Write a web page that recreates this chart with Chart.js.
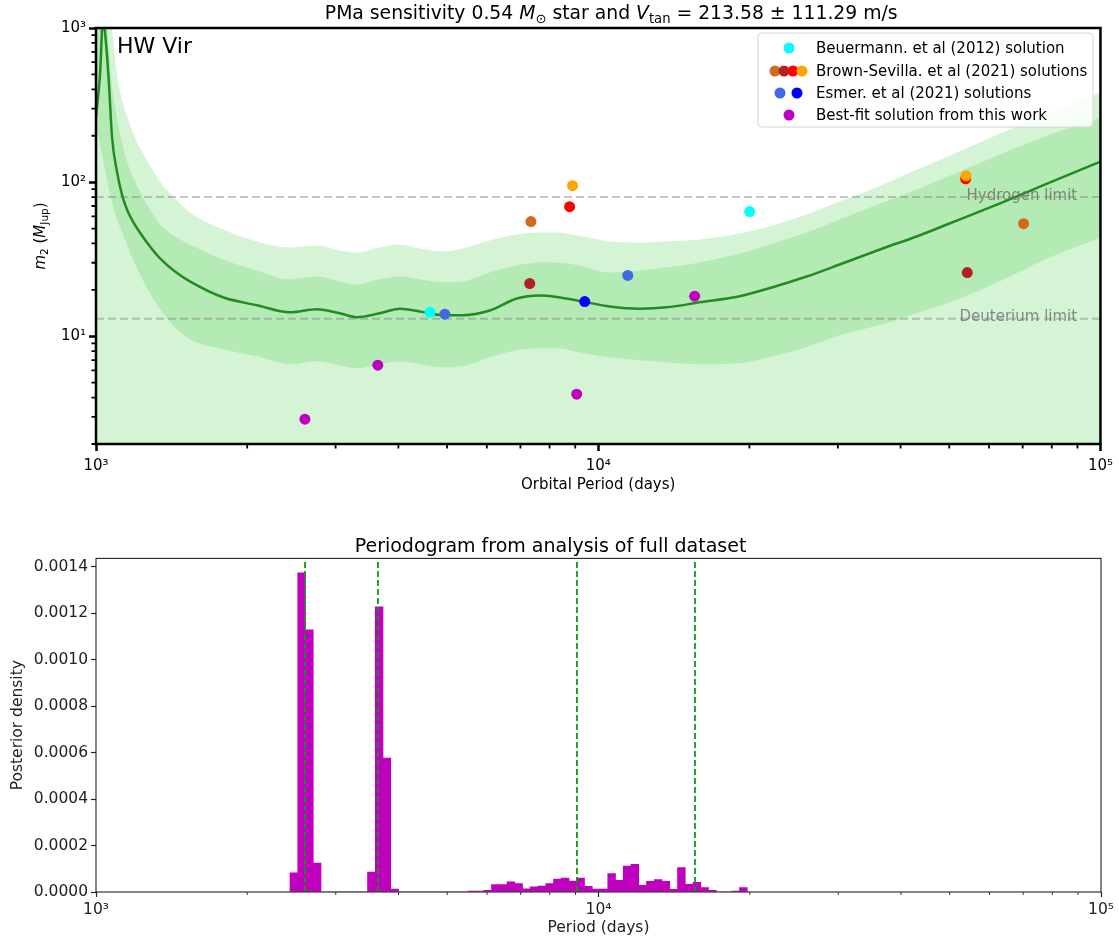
<!DOCTYPE html>
<html><head><meta charset="utf-8">
<script src="https://cdn.jsdelivr.net/npm/chart.js@4.4.1/dist/chart.umd.min.js"></script>
<style>
html,body{margin:0;padding:0;background:#fff;width:1119px;height:940px;overflow:hidden}
canvas{position:absolute;left:0;display:block}
</style></head><body>
<canvas id="top" width="1119" height="500" style="top:0px"></canvas>
<canvas id="bottom" width="1119" height="440" style="top:500px"></canvas>
<script>
// ---------------- data ----------------
const periodGrid = [1000, 1018.5, 1032.6, 1046.9, 1061.4, 1076.1, 1101.0, 1126.5, 1152.6, 1184.7, 1223, 1280.9, 1341, 1436.4, 1538, 1789, 2091, 2433, 2754, 3060, 3306, 3674, 4027, 4414, 4904, 5375, 6082, 6883, 7649, 8268, 9316, 10541, 12095, 13689, 15922, 19126, 22250, 25994, 30241, 36840, 43040, 50060, 62950, 79170, 100000];
const medianMass = [265, 497, 1150, 800, 428, 197, 117, 83, 66.4, 55.5, 47.1, 38.2, 32.0, 26.3, 22.7, 17.9, 15.9, 14.3, 14.95, 14.1, 13.3, 14.1, 15.07, 14.5, 13.7, 13.7, 14.7, 17.6, 18.4, 18.0, 16.8, 15.6, 15.1, 15.4, 16.6, 18.2, 20.8, 24.4, 29.2, 37.1, 44.4, 53.9, 72.6, 99.3, 135.8];
const innerHigh = [600, 1500, 3000, 1300, 720, 428, 261, 180, 136, 107, 86.8, 66.4, 53.1, 44.4, 39.4, 31.5, 26.7, 23.4, 24.4, 22.7, 21.7, 23.4, 24.4, 23.4, 22.4, 22.7, 25.9, 28.8, 30.1, 30.1, 28.4, 25.9, 26.7, 28.0, 30.1, 34.4, 40.0, 47.1, 57.2, 73.7, 89.4, 110.2, 150.7, 203, 261];
const innerLow = [236, 175, 140, 112, 90, 73.7, 57.2, 47.9, 39.4, 31.5, 25.2, 19.0, 15.0, 11.4, 9.57, 8.24, 7.42, 6.59, 6.89, 6.49, 6.21, 6.59, 6.89, 6.59, 6.30, 6.39, 7.31, 8.12, 8.36, 8.36, 7.76, 7.31, 7.0, 6.79, 6.59, 6.69, 7.42, 8.49, 10.15, 11.96, 14.1, 16.6, 22.7, 32.4, 43.7];
const outerHigh = [3000, 3000, 3000, 3000, 1300, 970, 497, 342, 269, 209, 167, 128, 100.7, 78.2, 63.5, 49.3, 41.2, 37.7, 38.8, 36.0, 35.0, 37.7, 39.4, 37.1, 35.5, 37.1, 41.8, 45.7, 47.1, 47.1, 44.4, 41.2, 40.6, 41.2, 42.4, 46.4, 52.3, 61.6, 74.8, 96.3, 120.5, 148.4, 206, 282, 380];
const outerLow = [1.5, 1.5, 1.5, 1.5, 1.5, 1.5, 1.5, 1.5, 1.5, 1.5, 1.5, 1.5, 1.5, 1.5, 1.5, 1.5, 1.5, 1.5, 1.5, 1.5, 1.5, 1.5, 1.5, 1.5, 1.5, 1.5, 1.5, 1.5, 1.5, 1.5, 1.5, 1.5, 1.5, 1.5, 1.5, 1.5, 1.5, 1.5, 1.5, 1.5, 1.5, 1.5, 1.5, 1.5, 1.5];

const hydrogenLimit = 80;
const deuteriumLimit = 13;
const hydrogenLabelP = 54110;
const deuteriumLabelP = 52410;

const beuermannP = [4625, 20020];          const beuermannM = [14.3, 64.4];
const brownChocolateP = [7345, 70300];     const brownChocolateM = [55.5, 53.8];
const brownFirebrickP = [7305, 54300];     const brownFirebrickM = [22.0, 25.9];
const brownRedP = [8770, 53900];           const brownRedM = [69.3, 105];
const brownOrangeP = [8890, 54000];        const brownOrangeM = [94.8, 110];
const esmerRoyalP = [4950, 11450];         const esmerRoyalM = [13.9, 24.8];
const esmerBlueP = [9400];                 const esmerBlueM = [16.8];
const bestFitP = [2606, 3640, 9060, 15560]; const bestFitM = [2.90, 6.49, 4.21, 18.2];

const legendLabels = ['Beuermann. et al (2012) solution', 'Brown-Sevilla. et al (2021) solutions', 'Esmer. et al (2021) solutions', 'Best-fit solution from this work'];

const xMajorTicks = [1000, 10000, 100000];
const xMinorTicks = [2000, 3000, 4000, 5000, 6000, 7000, 8000, 9000, 20000, 30000, 40000, 50000, 60000, 70000, 80000, 90000];
const yMajorTicks = [10, 100, 1000];
const yMinorTicks = [2, 3, 4, 5, 6, 7, 8, 9, 20, 30, 40, 50, 60, 70, 80, 90, 200, 300, 400, 500, 600, 700, 800, 900];

const histBinCenters = [2476.2, 2565.7, 2658.5, 2754.6, 2854.2, 2957.4, 3064.3, 3175.1, 3289.9, 3408.8, 3532.0, 3659.7, 3792.0, 3929.1, 4071.1, 4218.3, 4370.8, 4528.8, 4692.5, 4862.2, 5038.0, 5220.1, 5408.8, 5604.3, 5806.9, 6016.8, 6234.3, 6459.7, 6693.2, 6935.2, 7185.9, 7445.7, 7714.9, 7993.8, 8282.8, 8582.2, 8892.4, 9213.9, 9547.0, 9892.1, 10249.7, 10620.2, 11004.1, 11401.9, 11814.1, 12241.2, 12683.8, 13142.3, 13617.4, 14109.7, 14619.8, 15148.3, 15695.9, 16263.3, 16851.2, 17460.4, 18091.6, 18745.6, 19423.3];
const histDensity = [0.000082, 0.001374, 0.001129, 0.000125, 0, 0, 0, 0, 0, 0, 0.000086, 0.001228, 0.000577, 0.000013, 0, 0, 0, 0, 0, 0, 0, 0, 0, 0.000004, 0.000004, 0.000007, 0.000032, 0.000032, 0.000044, 0.000036, 0.000014, 0.000022, 0.000026, 0.000036, 0.000056, 0.000060, 0.000047, 0.000060, 0.000024, 0.000013, 0.000013, 0.000079, 0.000050, 0.000112, 0.000119, 0.000029, 0.000046, 0.000053, 0.000046, 0.000012, 0.000105, 0.000033, 0.000042, 0.000019, 0.000007, 0, 0, 0.000004, 0.000019];
const densityTicks = [0, 0.0002, 0.0004, 0.0006, 0.0008, 0.0010, 0.0012, 0.0014];
const densityAxisMax = 0.001436;

// ---------------- styling ----------------
const FF = '"DejaVu Sans", "Liberation Sans", sans-serif';
Chart.defaults.font.family = FF;
Chart.defaults.color = '#000';
const OUTER = '#d5f4d5';
const INNER = '#b4eab4';
const LINE = '#228b22';
const SUP = {0:'⁰',1:'¹',2:'²',3:'³',4:'⁴',5:'⁵'};
const powLabel = v => '10' + SUP[Math.round(Math.log10(v))];
const pts = (xs, ys) => xs.map((x, i) => ({x: x, y: ys[i]}));

function drawRich(ctx, pieces, cx, y, size) {
  let total = 0;
  const fnt = p => (p[1] === 'i' ? 'italic ' : '') + (size * p[2]).toFixed(2) + 'px ' + FF;
  const ws = pieces.map(p => { ctx.font = fnt(p); const w = ctx.measureText(p[0]).width; total += w; return w; });
  let x = cx - total / 2;
  pieces.forEach((p, i) => { ctx.font = fnt(p); ctx.fillText(p[0], x, y + p[3] * size); x += ws[i]; });
}

function minorTicks(chart, xv, yv, len, width, color) {
  const {ctx, chartArea: ca} = chart;
  const xs = chart.scales.x, ys = chart.scales.y;
  ctx.save();
  ctx.strokeStyle = color; ctx.lineWidth = width;
  ctx.beginPath();
  xv.forEach(v => { const p = xs.getPixelForValue(v); ctx.moveTo(p, ca.bottom); ctx.lineTo(p, ca.bottom + len); });
  yv.forEach(v => { const p = ys.getPixelForValue(v); ctx.moveTo(ca.left, p); ctx.lineTo(ca.left - len, p); });
  ctx.stroke();
  ctx.restore();
}

const topDecor = {
  id: 'topDecor',
  afterDatasetsDraw(chart) {
    const {ctx} = chart;
    const xs = chart.scales.x, ys = chart.scales.y;
    ctx.save();
    ctx.font = '15px ' + FF;
    ctx.fillStyle = 'rgba(110,110,110,0.8)';
    ctx.textAlign = 'left'; ctx.textBaseline = 'alphabetic';
    ctx.fillText('Hydrogen limit', xs.getPixelForValue(hydrogenLabelP), ys.getPixelForValue(hydrogenLimit) + 3);
    ctx.fillText('Deuterium limit', xs.getPixelForValue(deuteriumLabelP), ys.getPixelForValue(deuteriumLimit) + 2);
    ctx.restore();
  },
  afterDraw(chart) {
    const {ctx, chartArea: ca} = chart;
    minorTicks(chart, xMinorTicks, yMinorTicks, 4.5, 1.8, '#000');
    ctx.save();
    ctx.strokeStyle = '#000'; ctx.lineWidth = 2.5;
    ctx.strokeRect(ca.left, ca.top, ca.right - ca.left, ca.bottom - ca.top);
    // star name
    ctx.fillStyle = '#000'; ctx.font = '22px ' + FF; ctx.textAlign = 'left'; ctx.textBaseline = 'alphabetic';
    ctx.fillText('HW Vir', ca.left + 21, ca.top + 25);
    // legend
    const lx = 758, ly = 33, lw = 335, lh = 94;
    ctx.beginPath();
    ctx.roundRect(lx, ly, lw, lh, 4);
    ctx.fillStyle = 'rgba(255,255,255,0.8)'; ctx.fill();
    ctx.strokeStyle = '#d4d4d4'; ctx.lineWidth = 1; ctx.stroke();
    const rows = [48, 71, 93, 115];
    const marks = [[[789, '#00ffff']], [[775, '#d2691e'], [784, '#b22222'], [793, '#ff0000'], [802, '#ffa500']], [[780, '#4169e1'], [797, '#0000ff']], [[789, '#bf00bf']]];
    marks.forEach((m, i) => m.forEach(([mx, c]) => { ctx.beginPath(); ctx.arc(mx, rows[i], 5.5, 0, Math.PI * 2); ctx.fillStyle = c; ctx.fill(); }));
    ctx.fillStyle = '#000'; ctx.font = '15px ' + FF; ctx.textBaseline = 'middle';
    legendLabels.forEach((t, i) => ctx.fillText(t, 816, rows[i] + 1));
    // title
    ctx.textBaseline = 'alphabetic'; ctx.fillStyle = '#000';
    drawRich(ctx, [['PMa sensitivity 0.54 ', 'n', 1, 0], ['M', 'i', 1, 0], ['⊙', 'n', 0.7, 0.22], [' star and ', 'n', 1, 0], ['V', 'i', 1, 0], ['tan', 'n', 0.7, 0.22], [' = 213.58 ± 111.29 m/s', 'n', 1, 0]], (ca.left + ca.right) / 2 + 13, 18.5, 18.8);
    // y label
    ctx.translate(40, (ca.top + ca.bottom) / 2);
    ctx.rotate(-Math.PI / 2);
    drawRich(ctx, [['m', 'i', 1, 0], ['2', 'n', 0.7, 0.22], [' (', 'n', 1, 0], ['M', 'i', 1, 0], ['Jup', 'n', 0.7, 0.22], [')', 'n', 1, 0]], 0, 5, 15);
    ctx.restore();
  }
};

const bottomDecor = {
  id: 'bottomDecor',
  afterDraw(chart) {
    const {ctx, chartArea: ca} = chart;
    minorTicks(chart, xMinorTicks, [], 3, 0.9, '#222');
    ctx.save();
    ctx.strokeStyle = '#222'; ctx.lineWidth = 1.1;
    ctx.strokeRect(ca.left, ca.top, ca.right - ca.left, ca.bottom - ca.top);
    ctx.restore();
  }
};

const lineDs = (arr, extra) => Object.assign({
  data: pts(periodGrid, arr), showLine: true, pointRadius: 0, borderWidth: 0,
  cubicInterpolationMode: 'monotone', fill: false
}, extra);
const pointDs = (xs, ys, color, order) => ({
  data: pts(xs, ys), showLine: false, pointRadius: 5.5, pointHoverRadius: 5.5,
  pointBackgroundColor: color, pointBorderWidth: 0, borderColor: color, order: order
});

new Chart(document.getElementById('top'), {
  type: 'line',
  data: { datasets: [
    lineDs(outerLow, {order: 20}),
    lineDs(outerHigh, {order: 19, fill: {target: 0}, backgroundColor: OUTER}),
    lineDs(innerLow, {order: 18}),
    lineDs(innerHigh, {order: 17, fill: {target: 2}, backgroundColor: INNER}),
    {data: [{x: 1000, y: hydrogenLimit}, {x: 100000, y: hydrogenLimit}], showLine: true, pointRadius: 0, borderColor: 'rgba(128,128,128,0.45)', borderWidth: 2, borderDash: [8, 4], order: 15},
    {data: [{x: 1000, y: deuteriumLimit}, {x: 100000, y: deuteriumLimit}], showLine: true, pointRadius: 0, borderColor: 'rgba(128,128,128,0.45)', borderWidth: 2, borderDash: [8, 4], order: 15},
    lineDs(medianMass, {order: 10, borderColor: LINE, borderWidth: 2.5}),
    pointDs(beuermannP, beuermannM, '#00ffff', 8),
    pointDs(brownChocolateP, brownChocolateM, '#d2691e', 7),
    pointDs(brownFirebrickP, brownFirebrickM, '#b22222', 6),
    pointDs(brownRedP, brownRedM, '#ff0000', 5),
    pointDs(brownOrangeP, brownOrangeM, '#ffa500', 4),
    pointDs(esmerRoyalP, esmerRoyalM, '#4169e1', 3),
    pointDs(esmerBlueP, esmerBlueM, '#0000ff', 2),
    pointDs(bestFitP, bestFitM, '#bf00bf', 1)
  ]},
  options: {
    responsive: false, animation: false, devicePixelRatio: 1, events: [],
    layout: {padding: {left: 0, right: 18, top: 28, bottom: 0}},
    plugins: {legend: {display: false}, tooltip: {enabled: false}},
    scales: {
      x: {
        type: 'logarithmic', min: 1000, max: 100000,
        afterBuildTicks: s => { s.ticks = xMajorTicks.map(v => ({value: v})); },
        afterFit: s => { s.height = 56; },
        ticks: {callback: v => powLabel(v), autoSkip: false, maxRotation: 0, padding: 6, color: '#000', font: {size: 15, family: FF}},
        grid: {display: true, drawOnChartArea: false, drawTicks: true, tickLength: 7, tickWidth: 2.5, tickColor: '#000'},
        border: {display: false},
        title: {display: true, text: 'Orbital Period (days)', color: '#000', font: {size: 15, family: FF}, padding: {top: 0, bottom: 6}}
      },
      y: {
        type: 'logarithmic', min: 2, max: 1000,
        afterBuildTicks: s => { s.ticks = yMajorTicks.map(v => ({value: v})); },
        afterFit: s => { s.width = 96; },
        ticks: {callback: v => powLabel(v), autoSkip: false, padding: 3, color: '#000', font: {size: 15, family: FF}},
        grid: {display: true, drawOnChartArea: false, drawTicks: true, tickLength: 7, tickWidth: 2.5, tickColor: '#000'},
        border: {display: false}
      }
    }
  },
  plugins: [topDecor]
});

new Chart(document.getElementById('bottom'), {
  type: 'bar',
  data: { datasets: [
    ...bestFitP.map(p => ({type: 'line', data: [{x: p, y: 0}, {x: p, y: densityAxisMax}], borderColor: '#119611', borderWidth: 1.8, borderDash: [6, 3], pointRadius: 0, fill: false, order: 0})),
    {type: 'bar', data: pts(histBinCenters, histDensity), backgroundColor: '#bf00bf', borderWidth: 0, barPercentage: 1, categoryPercentage: 1, order: 1}
  ]},
  options: {
    responsive: false, animation: false, devicePixelRatio: 1, events: [],
    layout: {padding: {left: 0, right: 18, top: 0, bottom: 0}},
    plugins: {
      legend: {display: false}, tooltip: {enabled: false},
      title: {display: true, text: 'Periodogram from analysis of full dataset', color: '#000', font: {size: 19, weight: 'normal', family: FF}, padding: {top: 35.6, bottom: 0}}
    },
    scales: {
      x: {
        type: 'logarithmic', min: 1000, max: 100000, offset: false,
        afterBuildTicks: s => { s.ticks = xMajorTicks.map(v => ({value: v})); },
        afterFit: s => { s.height = 48; },
        ticks: {callback: v => powLabel(v), autoSkip: false, maxRotation: 0, padding: 4, color: '#222', font: {size: 15.5, family: FF}},
        grid: {display: true, offset: false, drawOnChartArea: false, drawTicks: true, tickLength: 5, tickWidth: 1.2, tickColor: '#222'},
        border: {display: false},
        title: {display: true, text: 'Period (days)', color: '#222', font: {size: 15.5, family: FF}, padding: {top: 0, bottom: 2.7}}
      },
      y: {
        type: 'linear', min: 0, max: densityAxisMax,
        afterBuildTicks: s => { s.ticks = densityTicks.map(v => ({value: v})); },
        afterFit: s => { s.width = 96; },
        ticks: {callback: v => Number(v).toFixed(4), autoSkip: false, padding: 3, color: '#222', font: {size: 15.5, family: FF}},
        grid: {display: true, drawOnChartArea: false, drawTicks: true, tickLength: 5, tickWidth: 1.2, tickColor: '#222'},
        border: {display: false},
        title: {display: true, text: 'Posterior density', color: '#222', font: {size: 15.5, family: FF}, padding: {top: 8.7, bottom: 0}}
      }
    }
  },
  plugins: [bottomDecor]
});
</script></body></html>
